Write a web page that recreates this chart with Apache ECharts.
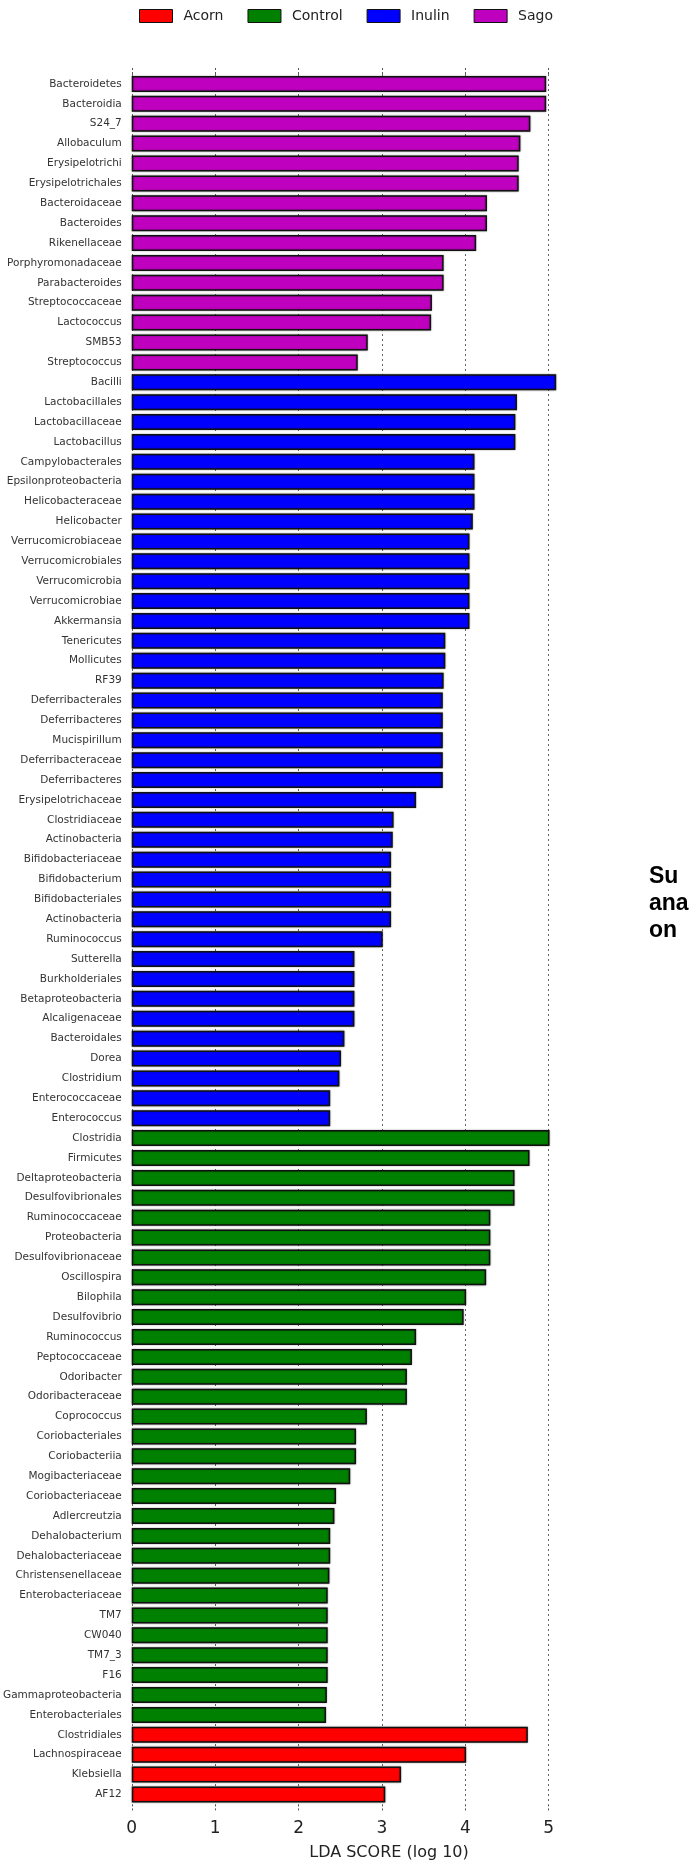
<!DOCTYPE html>
<html>
<head>
<meta charset="utf-8">
<script src="https://cdn.jsdelivr.net/npm/echarts@6/dist/echarts.min.js"></script>
<style>
  html, body { margin: 0; padding: 0; background: #fff; }
  #chart { width: 689px; height: 1861px; }
</style>
</head>
<body>
<div id="chart"></div>
<script>
// LDA scores (log 10), per enriched group
const sagoNames = [
  "Bacteroidetes", "Bacteroidia", "S24_7", "Allobaculum", "Erysipelotrichi",
  "Erysipelotrichales", "Bacteroidaceae", "Bacteroides", "Rikenellaceae",
  "Porphyromonadaceae", "Parabacteroides", "Streptococcaceae", "Lactococcus",
  "SMB53", "Streptococcus"
];
const sagoValues = [4.97, 4.97, 4.78, 4.66, 4.64, 4.64, 4.26, 4.26, 4.13, 3.74, 3.74, 3.60, 3.59, 2.83, 2.71];

const inulinNames = [
  "Bacilli", "Lactobacillales", "Lactobacillaceae", "Lactobacillus", "Campylobacterales",
  "Epsilonproteobacteria", "Helicobacteraceae", "Helicobacter", "Verrucomicrobiaceae",
  "Verrucomicrobiales", "Verrucomicrobia", "Verrucomicrobiae", "Akkermansia", "Tenericutes",
  "Mollicutes", "RF39", "Deferribacterales", "Deferribacteres", "Mucispirillum",
  "Deferribacteraceae", "Deferribacteres", "Erysipelotrichaceae", "Clostridiaceae",
  "Actinobacteria", "Bifidobacteriaceae", "Bifidobacterium", "Bifidobacteriales",
  "Actinobacteria", "Ruminococcus", "Sutterella", "Burkholderiales", "Betaproteobacteria",
  "Alcaligenaceae", "Bacteroidales", "Dorea", "Clostridium", "Enterococcaceae", "Enterococcus"
];
const inulinValues = [
  5.09, 4.62, 4.60, 4.60, 4.11, 4.11, 4.11, 4.09, 4.05, 4.05, 4.05, 4.05, 4.05, 3.76,
  3.76, 3.74, 3.73, 3.73, 3.73, 3.73, 3.73, 3.41, 3.14, 3.13, 3.11, 3.11, 3.11, 3.11,
  3.01, 2.67, 2.67, 2.67, 2.67, 2.55, 2.51, 2.49, 2.38, 2.38
];

const controlNames = [
  "Clostridia", "Firmicutes", "Deltaproteobacteria", "Desulfovibrionales", "Ruminococcaceae",
  "Proteobacteria", "Desulfovibrionaceae", "Oscillospira", "Bilophila", "Desulfovibrio",
  "Ruminococcus", "Peptococcaceae", "Odoribacter", "Odoribacteraceae", "Coprococcus",
  "Coriobacteriales", "Coriobacteriia", "Mogibacteriaceae", "Coriobacteriaceae",
  "Adlercreutzia", "Dehalobacterium", "Dehalobacteriaceae", "Christensenellaceae",
  "Enterobacteriaceae", "TM7", "CW040", "TM7_3", "F16", "Gammaproteobacteria",
  "Enterobacteriales"
];
const controlValues = [
  5.01, 4.77, 4.59, 4.59, 4.30, 4.30, 4.30, 4.25, 4.01, 3.98, 3.41, 3.36, 3.30, 3.30,
  2.82, 2.69, 2.69, 2.62, 2.45, 2.43, 2.38, 2.38, 2.37, 2.35, 2.35, 2.35, 2.35, 2.35,
  2.34, 2.33
];

const acornNames = ["Clostridiales", "Lachnospiraceae", "Klebsiella", "AF12"];
const acornValues = [4.75, 4.01, 3.23, 3.04];

const xTicks = [0, 1, 2, 3, 4, 5];

// top-to-bottom order of the bars
const groups = [
  { name: "Sago", names: sagoNames, values: sagoValues, color: "#bf00bf" },
  { name: "Inulin", names: inulinNames, values: inulinValues, color: "#0000ff" },
  { name: "Control", names: controlNames, values: controlValues, color: "#008000" },
  { name: "Acorn", names: acornNames, values: acornValues, color: "#ff0000" }
];

const labels = [];
groups.forEach(g => g.names.forEach(n => labels.push(n)));
const total = labels.length;

const buildSeries = (g) => {
  const data = new Array(total).fill("-");
  let start = 0;
  for (const other of groups) {
    if (other === g) break;
    start += other.names.length;
  }
  g.values.forEach((v, i) => { data[start + i] = v; });
  return {
    name: g.name,
    type: "bar",
    stack: "lda",
    barWidth: 16,
    clip: false,
    itemStyle: {
      color: g.color,
      borderColor: "#111",
      borderWidth: 1.5,
      shadowColor: "rgba(0,0,0,0.35)",
      shadowBlur: 2
    },
    data: data
  };
};

// legend order: Acorn, Control, Inulin, Sago
const legendOrder = ["Acorn", "Control", "Inulin", "Sago"];
const series = legendOrder.map(n => buildSeries(groups.find(g => g.name === n)));

const tickStyle = { color: "#555", width: 1, type: [2, 2] };

const chart = echarts.init(document.getElementById("chart"));
chart.setOption({
  animation: false,
  backgroundColor: "#fff",
  legend: {
    data: legendOrder,
    left: 134,
    top: 4,
    itemWidth: 33,
    itemHeight: 13,
    itemGap: 24,
    icon: "rect",
    itemStyle: { borderColor: "#111", borderWidth: 1, shadowBlur: 0 },
    textStyle: { fontFamily: "DejaVu Sans", fontSize: 14, color: "#222", padding: [0, 0, 0, 6] }
  },
  title: {
    text: "LDA SCORE (log 10)",
    left: 384,
    top: 1840,
    textAlign: "center",
    textStyle: { fontFamily: "DejaVu Sans", fontSize: 16, fontWeight: "normal", color: "#222" }
  },
  grid: { left: 131, top: 74, width: 417.7, height: 1730.4 },
  xAxis: [
    {
      type: "value",
      min: 0,
      max: 5,
      interval: 1,
      axisLine: { show: false },
      axisTick: { show: true, length: 7, lineStyle: tickStyle },
      axisLabel: {
        margin: 16,
        fontFamily: "DejaVu Sans",
        fontSize: 17,
        color: "#222",
        formatter: v => xTicks.includes(v) ? String(v) : ""
      },
      splitLine: { show: true, lineStyle: { color: "#666", width: 1, type: [2, 3] } }
    },
    {
      type: "value",
      position: "top",
      min: 0,
      max: 5,
      interval: 1,
      axisLine: { show: false },
      axisTick: { show: true, length: 7, lineStyle: tickStyle },
      axisLabel: { show: false },
      splitLine: { show: false }
    }
  ],
  yAxis: {
    type: "category",
    inverse: true,
    data: labels.map((_, i) => String(i)),
    axisLine: { show: false },
    axisTick: { show: false },
    axisLabel: {
      margin: 10,
      fontFamily: "DejaVu Sans",
      fontSize: 10.5,
      color: "#333",
      formatter: v => labels[+v]
    }
  },
  graphic: [
    {
      type: "text",
      left: 649,
      top: 863,
      style: {
        text: "Su\nana\non",
        font: "bold 23px 'Liberation Sans', Arial, sans-serif",
        lineHeight: 27,
        fill: "#000"
      }
    }
  ],
  series: series
});
</script>
</body>
</html>
